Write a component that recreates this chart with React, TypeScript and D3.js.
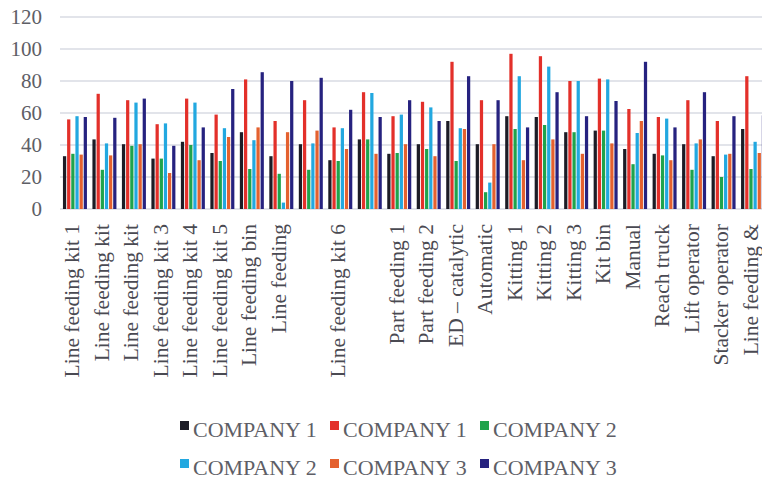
import React from "react";
import * as d3 from "d3";

const categories = [
  "Line feeding kit 1", "Line feeding kit", "Line feeding kit", "Line feeding kit 3",
  "Line feeding kit 4", "Line feeding kit 5", "Line feeding bin", "Line feeding",
  "", "Line feeding kit 6", " ", "Part feeding 1", "Part feeding 2", "ED \u2013 catalytic",
  "Automatic", "Kitting 1", "Kitting 2", "Kitting 3", "Kit bin", "Manual",
  "Reach truck", "Lift operator", "Stacker operator", "Line feeding &",
];

const seriesNames = ["COMPANY 1", "COMPANY 1", "COMPANY 2", "COMPANY 2", "COMPANY 3", "COMPANY 3"];
const seriesColors = ["#1c1c26", "#e3302a", "#1fa34c", "#22a8e0", "#e4612f", "#26227f"];

const company1a = [33, 43.5, 40.5, 31.5, 42, 35, 48, 33, 40.5, 30.5, 43.5, 34.5, 40.5, 55, 40.5, 58, 57.5, 48, 49, 37.5, 34.5, 40.5, 33, 50];
const company1b = [56, 72, 68, 53, 69, 59, 81, 55, 68, 51, 73, 58, 67, 92, 68, 97, 95.5, 80, 81.5, 62.5, 57.5, 68, 55, 83];
const company2a = [34.5, 24.5, 39.5, 31.5, 40, 30, 25, 22, 24.5, 30, 43.5, 35, 37.5, 30, 10.5, 50, 52.5, 48, 49, 28, 33.5, 24.5, 20, 25];
const company2b = [58, 41, 66.5, 53.5, 66.5, 50.5, 43, 4, 41, 50.5, 72.5, 59, 63.5, 50.5, 16.5, 83, 89, 80, 81, 47.5, 56.5, 41, 34, 42];
const company3a = [34, 33.5, 40.5, 22.5, 30.5, 45, 51, 48, 49, 37.5, 34.5, 40.5, 33, 50, 40.5, 30.5, 43.5, 34.5, 41, 55, 30.5, 43.5, 34.5, 35];
const company3b = [57.5, 57, 69, 39.5, 51, 75, 85.5, 80, 82, 62, 57.5, 68, 55, 83, 68, 51, 73, 58, 67.5, 92, 51, 73, 58, 58.5];

const series = [company1a, company1b, company2a, company2b, company3a, company3b];
const yTicks = [0, 20, 40, 60, 80, 100, 120];

const W = 762;
const H = 482;
const FONT = "'Liberation Serif', 'DejaVu Serif', serif";

export default function App() {
  const x = d3
    .scaleBand<number>()
    .domain(d3.range(categories.length))
    .range([60, 768])
    .paddingInner(0.186)
    .paddingOuter(0.1);

  const xs = d3
    .scaleBand<number>()
    .domain(d3.range(series.length))
    .range([0, x.bandwidth()])
    .paddingInner(0.22);

  const y = d3.scaleLinear().domain([0, 120]).range([209, 17]);

  const legendX = [180, 330, 480];
  const legendY = [429, 467];

  return (
    <svg
      width={W}
      height={H}
      style={{ position: "fixed", left: 0, top: 0, background: "#fff" }}
      fontFamily={FONT}
    >
      <rect width={W} height={H} fill="#fff" />
      {yTicks.map((t) => (
        <g key={t}>
          <line x1={60} x2={W} y1={y(t)} y2={y(t)} stroke="#d8dbe3" strokeWidth={1.5} />
          <text
            x={42}
            y={y(t)}
            dy="0.35em"
            textAnchor="end"
            fontSize={21}
            fill="#5e5e66"
          >
            {t}
          </text>
        </g>
      ))}

      {series.map((vals, si) => (
        <g key={si} fill={seriesColors[si]}>
          {vals.map((v, ci) => (
            <rect
              key={ci}
              x={(x(ci) as number) + (xs(si) as number)}
              width={xs.bandwidth()}
              y={y(v)}
              height={y(0) - y(v)}
            />
          ))}
        </g>
      ))}

      {categories.map((c, ci) => {
        const cx = (x(ci) as number) + x.bandwidth() / 2 - 2;
        return (
          <text
            key={ci}
            transform={`translate(${cx},224) rotate(-90)`}
            dy="0.3em"
            textAnchor="end"
            fontSize={21.5}
            fill="#4a4a52"
          >
            {c.trim()}
          </text>
        );
      })}

      {seriesNames.map((name, si) => {
        const lx = legendX[si % 3];
        const ly = legendY[Math.floor(si / 3)];
        return (
          <g key={si}>
            <rect x={lx} y={ly - 8} width={9} height={9} fill={seriesColors[si]} />
            <text x={lx + 13} y={ly} dy="0.35em" fontSize={22} fill="#5e5e66">
              {name}
            </text>
          </g>
        );
      })}
    </svg>
  );
}
